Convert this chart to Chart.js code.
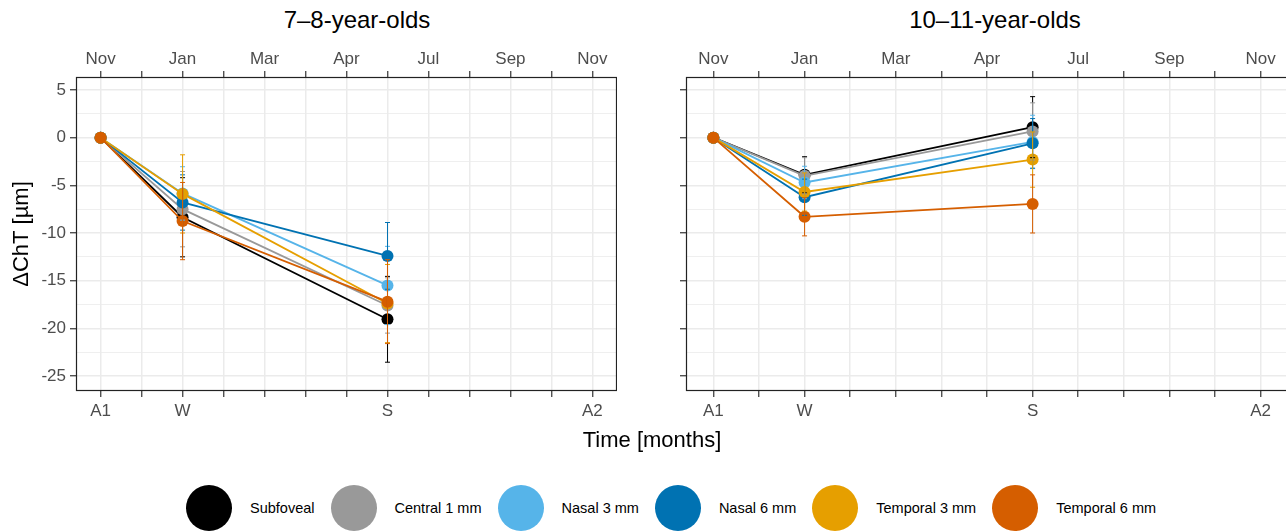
<!DOCTYPE html>
<html>
<head>
<meta charset="utf-8">
<script src="https://cdn.jsdelivr.net/npm/chart.js@4.4.1/dist/chart.umd.min.js"></script>
<style>
  html, body { margin: 0; padding: 0; }
  body {
    width: 1286px; height: 531px; overflow: hidden; position: relative;
    background: #fff; font-family: "Liberation Sans", Arial, sans-serif; color: #000;
  }
  .panel { position: absolute; top: 0; height: 440px; }
  .title { position: absolute; top: 6px; font-size: 24px; line-height: 28px; white-space: nowrap; transform: translateX(-50%); }
  #xtitle { position: absolute; top: 427px; left: 652px; font-size: 22px; line-height: 26px; transform: translateX(-50%); white-space: nowrap; }
  #legend { position: absolute; left: 186px; top: 485px; display: flex; align-items: center; font-size: 14.5px; }
  .item { display: flex; align-items: center; margin-right: 16px; }
  .dot { width: 46px; height: 46px; border-radius: 50%; margin-right: 18px; }
</style>
</head>
<body>
<div class="title" style="left:357px">7–8-year-olds</div>
<div class="title" style="left:995px">10–11-year-olds</div>
<div class="panel" style="left:0;width:617px"><canvas id="young"></canvas></div>
<div class="panel" style="left:640px;width:648px"><canvas id="old"></canvas></div>
<div id="xtitle">Time [months]</div>
<div id="legend"></div>

<script>
// Visits in months after baseline (A1 = Nov)
const visitMonths = [0, 2, 7];
const bottomTickLabels = ['A1', '', 'W', '', '', '', '', 'S', '', '', '', '', 'A2'];
const topTickLabels = ['Nov', '', 'Jan', '', 'Mar', '', 'Apr', '', 'Jul', '', 'Sep', '', 'Nov'];
const yTickValues = [-25, -22.5, -20, -17.5, -15, -12.5, -10, -7.5, -5, -2.5, 0, 2.5, 5];

const regions = ['Subfoveal', 'Central 1 mm', 'Nasal 3 mm', 'Nasal 6 mm', 'Temporal 3 mm', 'Temporal 6 mm'];
const regionColors = ['#000000', '#999999', '#56B4E9', '#0072B2', '#E69F00', '#D55E00'];

// 7–8-year-olds: mean ΔChT and error half-width at A1, W, S
const youngSubfoveal = [0, -8.35, -19.05];
const youngCentral1 = [0, -7.5, -17.6];
const youngNasal3 = [0, -5.85, -15.5];
const youngNasal6 = [0, -6.8, -12.4];
const youngTemporal3 = [0, -5.9, -17.4];
const youngTemporal6 = [0, -8.75, -17.2];
const youngSubfovealErr = [0, 4.15, 4.5];
const youngCentral1Err = [0, 3.95, 2.9];
const youngNasal3Err = [0, 2.8, 4.1];
const youngNasal6Err = [0, 2.9, 3.5];
const youngTemporal3Err = [0, 4.1, 4.1];
const youngTemporal6Err = [0, 4.05, 4.4];

// 10–11-year-olds
const oldSubfoveal = [0, -3.9, 1.1];
const oldCentral1 = [0, -4.0, 0.65];
const oldNasal3 = [0, -4.7, -0.45];
const oldNasal6 = [0, -6.25, -0.6];
const oldTemporal3 = [0, -5.7, -2.3];
const oldTemporal6 = [0, -8.3, -6.95];
const oldSubfovealErr = [0, 1.9, 3.2];
const oldCentral1Err = [0, 1.9, 3.0];
const oldNasal3Err = [0, 1.7, 2.8];
const oldNasal6Err = [0, 1.9, 2.6];
const oldTemporal3Err = [0, 2.0, 2.9];
const oldTemporal6Err = [0, 2.0, 3.05];

const youngMeans = [youngSubfoveal, youngCentral1, youngNasal3, youngNasal6, youngTemporal3, youngTemporal6];
const youngErrs = [youngSubfovealErr, youngCentral1Err, youngNasal3Err, youngNasal6Err, youngTemporal3Err, youngTemporal6Err];
const oldMeans = [oldSubfoveal, oldCentral1, oldNasal3, oldNasal6, oldTemporal3, oldTemporal6];
const oldErrs = [oldSubfovealErr, oldCentral1Err, oldNasal3Err, oldNasal6Err, oldTemporal3Err, oldTemporal6Err];

const tickFont = { family: '"Liberation Sans", Arial, sans-serif', size: 17 };
const tickColor = '#4D4D4D';

// error bars drawn on top of the points, through the chart scales
const errorBars = {
    id: 'errorBars',
    afterDatasetsDraw(chart, args, opts) {
        const { ctx, scales: { x, y } } = chart;
        ctx.save();
        ctx.lineWidth = 1;
        opts.errs.forEach((errs, i) => {
            ctx.strokeStyle = regionColors[i];
            errs.forEach((e, j) => {
                if (!e) return;
                const m = opts.means[i][j];
                const px = x.getPixelForValue(visitMonths[j]);
                const top = y.getPixelForValue(m + e);
                const bot = y.getPixelForValue(m - e);
                ctx.beginPath();
                ctx.moveTo(px, top); ctx.lineTo(px, bot);
                ctx.moveTo(px - 2.5, top); ctx.lineTo(px + 2.5, top);
                ctx.moveTo(px - 2.5, bot); ctx.lineTo(px + 2.5, bot);
                ctx.stroke();
            });
        });
        ctx.restore();
    }
};

const panelBorder = {
    id: 'panelBorder',
    afterDraw(chart) {
        const { ctx, chartArea: a } = chart;
        ctx.save();
        ctx.strokeStyle = '#222';
        ctx.lineWidth = 1.2;
        ctx.strokeRect(a.left + 0.5, a.top + 0.5, a.right - a.left - 1, a.bottom - a.top - 1);
        ctx.restore();
    }
};

function monthAxis(position, labels, height, onArea) {
    return {
        type: 'linear',
        position: position,
        min: -0.6,
        max: 12.6,
        afterBuildTicks: (s) => { s.ticks = labels.map((_, i) => ({ value: i })); },
        afterFit: (s) => { s.height = height; },
        ticks: {
            autoSkip: false,
            maxRotation: 0,
            font: tickFont,
            color: tickColor,
            padding: position === 'top' ? 1 : 4,
            callback: (v) => labels[v]
        },
        grid: {
            drawOnChartArea: onArea,
            color: '#EBEBEB',
            lineWidth: 1.5,
            tickLength: 6,
            tickColor: '#333',
            tickWidth: 1.2
        },
        border: { display: false }
    };
}

function makePanel(id, means, errs, showLabels, yWidth) {
    const datasets = means.map((vals, i) => ({
        label: regions[i],
        data: visitMonths.map((m, j) => ({ x: m, y: vals[j] })),
        borderColor: regionColors[i],
        backgroundColor: regionColors[i],
        borderWidth: 1.8,
        pointRadius: 6,
        pointHoverRadius: 6,
        pointBorderWidth: 0,
        tension: 0,
        order: regions.length - i
    }));

    return new Chart(document.getElementById(id), {
        type: 'line',
        data: { datasets },
        options: {
            responsive: true,
            maintainAspectRatio: false,
            animation: false,
            layout: { padding: 0, autoPadding: false },
            plugins: {
                legend: { display: false },
                tooltip: { enabled: false },
                errorBars: { means, errs }
            },
            scales: {
                x: monthAxis('bottom', bottomTickLabels, 49, true),
                x2: monthAxis('top', topTickLabels, 77, false),
                y: {
                    type: 'linear',
                    position: 'left',
                    min: -26.57,
                    max: 6.36,
                    afterBuildTicks: (s) => { s.ticks = yTickValues.map(v => ({ value: v })); },
                    afterFit: (s) => { s.width = yWidth; },
                    ticks: {
                        display: showLabels,
                        font: tickFont,
                        color: tickColor,
                        padding: 4,
                        callback: (v) => (v % 5 === 0 ? String(v) : '')
                    },
                    grid: {
                        color: '#EBEBEB',
                        lineWidth: (c) => (c.tick && c.tick.value % 5 === 0 ? 1.5 : 0.8),
                        tickLength: 6,
                        tickWidth: 1.2,
                        tickColor: (c) => (c.tick && c.tick.value % 5 === 0 ? '#333' : 'rgba(0,0,0,0)')
                    },
                    border: { display: false },
                    title: {
                        display: showLabels,
                        text: 'ΔChT [µm]',
                        color: '#000',
                        font: { family: '"Liberation Sans", Arial, sans-serif', size: 22 },
                        padding: { top: 9, bottom: 0 }
                    }
                }
            }
        },
        plugins: [errorBars, panelBorder]
    });
}

makePanel('young', youngMeans, youngErrs, true, 76);
makePanel('old', oldMeans, oldErrs, false, 46);

// legend
const legend = document.getElementById('legend');
regions.forEach((r, i) => {
    const item = document.createElement('div');
    item.className = 'item';
    item.innerHTML = '<div class="dot" style="background:' + regionColors[i] + '"></div><span>' + r + '</span>';
    legend.appendChild(item);
});
</script>
</body>
</html>
